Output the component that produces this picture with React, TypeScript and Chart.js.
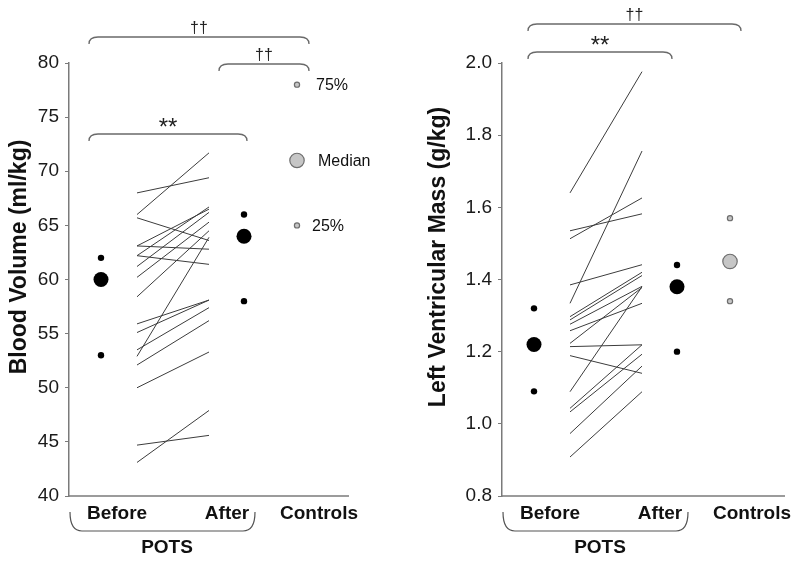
import React, { useEffect, useRef } from 'react';
import { Chart, registerables } from 'chart.js';

Chart.register(...registerables);

const FONT = '"Liberation Sans", Arial, sans-serif';

const categories = ['Before', 'After', 'Controls'];
const groupName = 'POTS';
const quantileNames = ['25%', 'Median', '75%'];

// Blood volume (ml/kg) — paired POTS patients
const bvBefore = [68.0, 66.0, 65.7, 63.1, 62.2, 63.1, 62.2, 61.2, 60.2, 58.4, 55.9, 55.1, 53.5, 52.9, 52.1, 50.0, 44.7, 43.1];
const bvAfter = [69.4, 71.7, 63.6, 62.8, 61.4, 66.5, 66.7, 66.2, 65.3, 64.5, 58.1, 58.1, 57.4, 63.9, 56.2, 53.3, 45.6, 47.9];
// [25%, median, 75%]
const bvBeforeQ = [53, 60, 62];
const bvAfterQ = [58, 64, 66];
const bvControlsQ = [65, 71, 78];
const bvTicks = [40, 80, 5];

// Left ventricular mass (g/kg)
const lvmBefore = [1.64, 1.535, 1.513, 1.385, 1.334, 1.297, 1.288, 1.276, 1.258, 1.223, 1.214, 1.189, 1.089, 1.043, 1.033, 0.973, 0.908];
const lvmAfter = [1.976, 1.582, 1.626, 1.441, 1.756, 1.42, 1.411, 1.381, 1.334, 1.378, 1.219, 1.14, 1.38, 1.219, 1.193, 1.16, 1.089];
const lvmBeforeQ = [1.09, 1.22, 1.32];
const lvmAfterQ = [1.2, 1.38, 1.44];
const lvmControlsQ = [1.34, 1.45, 1.57];
const lvmTicks = [0.8, 2.0, 0.2];

// horizontal layout in x-scale units (pixels from the y axis)
const X = { before: 32, start: 68, end: 140, after: 175, controls: 228 };
const LABEL_X = [48, 158, 250];
const POTS_X = 98;
const BRACE = [1, 186];

type Bracket = { x1: number; x2: number; top: number; label: string };
type Panel = {
  title: string;
  before: number[];
  after: number[];
  bq: number[];
  aq: number[];
  cq: number[];
  ticks: number[];
  decimals: number;
  padLeft: number;
  padRight: number;
  xMax: number;
  titleX: number;
  brackets: Bracket[];
  legend: boolean;
};

const panels: Panel[] = [
  {
    title: 'Blood Volume (ml/kg)',
    before: bvBefore,
    after: bvAfter,
    bq: bvBeforeQ,
    aq: bvAfterQ,
    cq: bvControlsQ,
    ticks: bvTicks,
    decimals: 0,
    padLeft: 0,
    padRight: 51,
    xMax: 280,
    titleX: 20,
    brackets: [
      { x1: 20, x2: 240, top: 37, label: '\u2020\u2020' },
      { x1: 150, x2: 240, top: 64, label: '\u2020\u2020' },
      { x1: 20, x2: 178, top: 134, label: '**' },
    ],
    legend: true,
  },
  {
    title: 'Left Ventricular Mass (g/kg)',
    before: lvmBefore,
    after: lvmAfter,
    bq: lvmBeforeQ,
    aq: lvmAfterQ,
    cq: lvmControlsQ,
    ticks: lvmTicks,
    decimals: 1,
    padLeft: 33,
    padRight: 15,
    xMax: 283,
    titleX: 39,
    brackets: [
      { x1: 26, x2: 239, top: 24, label: '\u2020\u2020' },
      { x1: 26, x2: 170, top: 52, label: '**' },
    ],
    legend: false,
  },
];

function makePlugin(p: Panel) {
  return {
    id: 'annot',
    afterDraw(chart: any) {
      const { ctx, chartArea: ca } = chart;
      const xs = chart.scales.x;
      const ys = chart.scales.y;
      const px = (u: number) => xs.getPixelForValue(u);
      ctx.save();
      // x axis line
      ctx.strokeStyle = '#7a7a7a';
      ctx.lineWidth = 1.5;
      ctx.beginPath();
      ctx.moveTo(ca.left, ca.bottom);
      ctx.lineTo(ca.right, ca.bottom);
      ctx.stroke();

      // category labels
      ctx.fillStyle = '#111';
      ctx.font = `bold 19px ${FONT}`;
      ctx.textAlign = 'center';
      ctx.textBaseline = 'middle';
      categories.forEach((c, i) => ctx.fillText(c, px(LABEL_X[i]), ca.bottom + 18));
      ctx.fillText(groupName, px(POTS_X), ca.bottom + 52);

      // brace under Before / After
      const bx1 = px(BRACE[0]);
      const bx2 = px(BRACE[1]);
      const bTop = ca.bottom + 16;
      const bBot = ca.bottom + 35;
      ctx.strokeStyle = '#555';
      ctx.lineWidth = 1.2;
      ctx.beginPath();
      ctx.moveTo(bx1, bTop);
      ctx.quadraticCurveTo(bx1, bBot, bx1 + 12, bBot);
      ctx.lineTo(bx2 - 12, bBot);
      ctx.quadraticCurveTo(bx2, bBot, bx2, bTop);
      ctx.stroke();

      // y title
      ctx.save();
      ctx.translate(p.titleX, 257);
      ctx.rotate(-Math.PI / 2);
      ctx.font = `bold 23px ${FONT}`;
      ctx.fillStyle = '#111';
      ctx.fillText(p.title, 0, 0);
      ctx.restore();

      // significance brackets
      p.brackets.forEach((b) => {
        const x1 = px(b.x1);
        const x2 = px(b.x2);
        const r = 9;
        const drop = 7;
        ctx.strokeStyle = '#6a6a6a';
        ctx.lineWidth = 1.3;
        ctx.beginPath();
        ctx.moveTo(x1, b.top + drop);
        ctx.quadraticCurveTo(x1, b.top, x1 + r, b.top);
        ctx.lineTo(x2 - r, b.top);
        ctx.quadraticCurveTo(x2, b.top, x2, b.top + drop);
        ctx.stroke();
        ctx.textAlign = 'center';
        ctx.textBaseline = 'alphabetic';
        ctx.fillStyle = '#222';
        if (b.label === '**') {
          ctx.font = `24px ${FONT}`;
          ctx.fillText(b.label, (x1 + x2) / 2, b.top + 1);
        } else {
          ctx.font = `16px ${FONT}`;
          ctx.fillText(b.label, (x1 + x2) / 2, b.top - 4);
        }
      });

      // legend labels next to control quantiles
      if (p.legend) {
        ctx.font = `16px ${FONT}`;
        ctx.fillStyle = '#111';
        ctx.textAlign = 'left';
        ctx.textBaseline = 'middle';
        const lx = [243, 249, 247];
        quantileNames.forEach((name, i) => {
          ctx.fillText(name, px(lx[i]), ys.getPixelForValue(p.cq[i]) + 1);
        });
      }
      ctx.restore();
    },
  };
}

function buildConfig(p: Panel): any {
  const lineSets = p.before.map((b, i) => ({
    data: [
      { x: X.start, y: b },
      { x: X.end, y: p.after[i] },
    ],
    showLine: true,
    borderColor: '#3c3c3c',
    borderWidth: 1,
    pointRadius: 0,
    fill: false,
    clip: false,
  }));
  const qSet = (x: number, q: number[], fill: string, border: string, small: number, big: number, bw: number) => ({
    data: q.map((v) => ({ x, y: v })),
    showLine: false,
    pointRadius: [small, big, small],
    backgroundColor: fill,
    borderColor: border,
    borderWidth: bw,
    clip: false,
  });
  return {
    type: 'scatter',
    data: {
      datasets: [
        ...lineSets,
        qSet(X.before, p.bq, '#000', '#000', 3.2, 7.5, 0),
        qSet(X.after, p.aq, '#000', '#000', 3.2, 7.5, 0),
        qSet(X.controls, p.cq, '#c6c6c6', '#6e6e6e', 2.6, 7.2, 1.2),
      ],
    },
    options: {
      animation: false,
      responsive: false,
      maintainAspectRatio: false,
      events: [],
      layout: { padding: { top: 63, bottom: 66, left: p.padLeft, right: p.padRight } },
      plugins: { legend: { display: false }, tooltip: { enabled: false } },
      scales: {
        x: { type: 'linear', display: false, min: 0, max: p.xMax },
        y: {
          type: 'linear',
          min: p.ticks[0],
          max: p.ticks[1],
          afterFit: (s: any) => {
            s.width = 69;
          },
          ticks: {
            stepSize: p.ticks[2],
            font: { family: FONT, size: 19 },
            color: '#1a1a1a',
            padding: 6,
            callback: (v: number) => Number(v).toFixed(p.decimals),
          },
          grid: { drawOnChartArea: false, drawTicks: true, tickLength: 4, color: '#7a7a7a', lineWidth: 1 },
          border: { display: true, color: '#7a7a7a', width: 1.5 },
        },
      },
    },
    plugins: [makePlugin(p)],
  };
}

function PanelChart({ panel, left }: { panel: Panel; left: number }) {
  const ref = useRef<HTMLCanvasElement>(null);
  useEffect(() => {
    if (!ref.current) return;
    const chart = new Chart(ref.current, buildConfig(panel));
    return () => chart.destroy();
  }, [panel]);
  return (
    <canvas
      ref={ref}
      width={400}
      height={562}
      style={{ position: 'absolute', left, top: 0, width: 400, height: 562 }}
    />
  );
}

export default function App() {
  return (
    <div style={{ position: 'fixed', left: 0, top: 0, width: 800, height: 562, background: '#fff' }}>
      <PanelChart panel={panels[0]} left={0} />
      <PanelChart panel={panels[1]} left={400} />
    </div>
  );
}
